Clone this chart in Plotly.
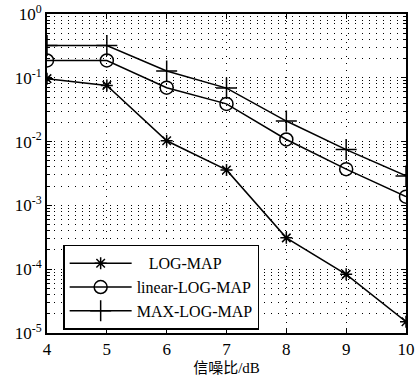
import plotly.graph_objects as go

snr = [4, 5, 6, 7, 8, 9, 10]
log_map = [0.097, 0.076, 0.0103, 0.0036, 3.1e-4, 8.3e-5, 1.5e-5]
linear_log_map = [0.187, 0.187, 0.070, 0.039, 0.0108, 0.0037, 0.00137]
max_log_map = [0.32, 0.32, 0.128, 0.069, 0.021, 0.0075, 0.0029]
names = ["\u00a0\u00a0\u00a0LOG-MAP", "linear-LOG-MAP", "MAX-LOG-MAP"]
x_ticks = [4, 5, 6, 7, 8, 9, 10]
y_tickvals = [1, 0.1, 0.01, 0.001, 1e-4, 1e-5]
y_ticktext = ["10<sup>0</sup>", "10<sup>-1</sup>", "10<sup>-2</sup>", "10<sup>-3</sup>",
              "10<sup>-4</sup>", "10<sup>-5</sup>"]
y_minor_vals = [m * 10.0 ** e for e in range(-5, 0) for m in range(2, 10)]
x_title = "信噪比/dB"

serif = "Liberation Serif, Times New Roman, Noto Sans CJK SC"
grid_dash = "1px,6px"

fig = go.Figure()
styles = [
    dict(symbol="asterisk-open", size=10),
    dict(symbol="circle-open", size=13),
    dict(symbol="cross-thin-open", size=15),
]
series = [log_map, linear_log_map, max_log_map]
for nm, ys, st in zip(names, series, styles):
    fig.add_trace(go.Scatter(
        x=snr, y=ys, mode="lines+markers", name=nm,
        line=dict(color="black", width=1.5),
        marker=dict(symbol=st["symbol"], size=st["size"], color="black",
                    line=dict(color="black", width=1.5)),
    ))

fig.update_layout(
    width=417, height=385,
    margin=dict(l=47, r=11, t=14, b=52),
    paper_bgcolor="white", plot_bgcolor="white",
    font=dict(family=serif, color="black", size=16),
    showlegend=True,
    legend=dict(
        x=0.045, y=0.01, xanchor="left", yanchor="bottom",
        bgcolor="white", bordercolor="black", borderwidth=1.5,
        font=dict(family=serif, size=16, color="black"),
        itemwidth=62, tracegroupgap=0,
    ),
    xaxis=dict(
        range=[4, 10], tickvals=x_ticks, ticks="inside", ticklen=5,
        tickcolor="black", showline=True, linecolor="black", linewidth=2,
        mirror="ticks", showgrid=True, gridcolor="black", griddash=grid_dash,
        gridwidth=1, zeroline=False, automargin=False,
        title=dict(text=x_title, font=dict(family=serif, size=15), standoff=4),
        tickfont=dict(family=serif, size=17),
    ),
    yaxis=dict(
        type="log", range=[-5, 0], tickmode="array", tickvals=y_tickvals,
        ticktext=y_ticktext,
        ticks="inside", ticklen=5, tickcolor="black", showline=True,
        linecolor="black", linewidth=2, mirror="ticks", showgrid=True,
        gridcolor="black", griddash=grid_dash, gridwidth=1, zeroline=False,
        automargin=False,
        tickfont=dict(family=serif, size=17),
        minor=dict(tickmode="array", tickvals=y_minor_vals, ticks="inside",
                   ticklen=3, tickcolor="black", showgrid=True,
                   gridcolor="black", griddash=grid_dash, gridwidth=1),
    ),
)

fig.write_html("out.html", config={"displayModeBar": False},
               post_script="document.body.style.margin='0';document.body.style.overflow='hidden';")
